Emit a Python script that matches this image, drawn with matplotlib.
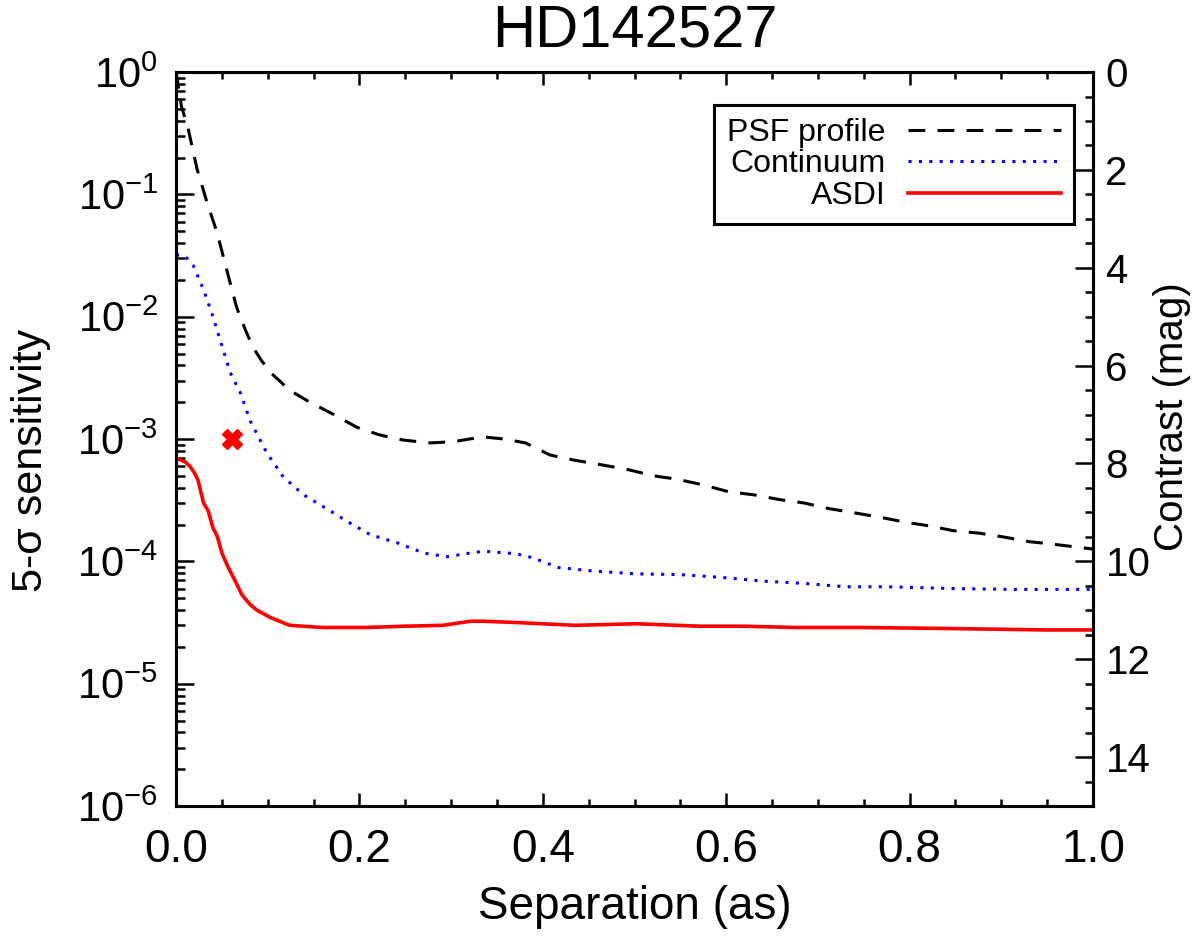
import matplotlib
matplotlib.use("Agg")
import matplotlib.pyplot as plt
from matplotlib.ticker import LogLocator, LogFormatterMathtext, MultipleLocator, NullFormatter, FormatStrFormatter

# PSF profile (black dashed)
sep_psf = [0.0, 0.006, 0.013, 0.023, 0.034, 0.045, 0.056, 0.066, 0.075, 0.084, 0.093,
           0.103, 0.124, 0.146, 0.171, 0.197, 0.222, 0.248, 0.277, 0.302, 0.320, 0.335,
           0.358, 0.381, 0.408, 0.435, 0.467, 0.494, 0.521, 0.546, 0.576, 0.603, 0.630,
           0.658, 0.685, 0.712, 0.739, 0.767, 0.794, 0.821, 0.848, 0.876, 0.903, 0.930,
           0.957, 0.989, 1.0]
psf = [1.0, 0.52, 0.35, 0.16, 0.085, 0.048, 0.023, 0.012, 0.0080, 0.0056, 0.0044,
       0.0035, 0.0025, 0.0020, 0.0016, 0.00125, 0.00108, 0.00098, 0.00093, 0.00095, 0.00100, 0.00104,
       0.00100, 0.00093, 0.00074, 0.00067, 0.00061, 0.00056, 0.00050, 0.00047, 0.00042, 0.00037, 0.00035,
       0.00032, 0.00030, 0.00027, 0.00025, 0.00023, 0.00021, 0.000195, 0.000178, 0.000170, 0.000158, 0.000145,
       0.000138, 0.000129, 0.000126]

# Continuum (blue dotted)
sep_cont = [0.0, 0.006, 0.012, 0.019, 0.030, 0.039, 0.048, 0.059, 0.070, 0.081, 0.099,
            0.117, 0.139, 0.164, 0.190, 0.212, 0.241, 0.270, 0.295, 0.321, 0.335, 0.355,
            0.372, 0.389, 0.417, 0.458, 0.503, 0.549, 0.594, 0.639, 0.685, 0.730, 0.776,
            0.844, 0.912, 1.0]
cont = [0.032, 0.032, 0.030, 0.026, 0.0166, 0.0107, 0.0065, 0.0035, 0.0024, 0.0014, 0.00077,
        0.00049, 0.00035, 0.00027, 0.000205, 0.000165, 0.000142, 0.000117, 0.000109, 0.000117, 0.000121, 0.000118,
        0.000115, 0.000107, 0.000089, 0.000083, 0.000079, 0.000078, 0.000074, 0.000069, 0.000066, 0.000062, 0.000062,
        0.000060, 0.000059, 0.000059]

# ASDI (red solid)
sep_asdi = [0.0, 0.004, 0.010, 0.015, 0.020, 0.024, 0.030, 0.035, 0.040, 0.045, 0.050, 0.057,
            0.065, 0.072, 0.080, 0.088, 0.103, 0.124, 0.160, 0.208, 0.248, 0.291, 0.321,
            0.335, 0.372, 0.435, 0.503, 0.571, 0.620, 0.676, 0.75, 0.85, 0.95, 1.0]
asdi = [6.9e-4, 6.8e-4, 6.5e-4, 6.0e-4, 5.3e-4, 4.6e-4, 3.0e-4, 2.6e-4, 1.9e-4, 1.6e-4, 1.17e-4, 8.9e-5,
        6.8e-5, 5.3e-5, 4.5e-5, 4.0e-5, 3.47e-5, 3.0e-5, 2.88e-5, 2.88e-5, 2.95e-5, 3.0e-5, 3.24e-5,
        3.24e-5, 3.16e-5, 3.0e-5, 3.09e-5, 2.95e-5, 2.95e-5, 2.88e-5, 2.88e-5, 2.82e-5, 2.75e-5, 2.75e-5]

# companion point
comp_sep = [0.061]
comp_sens = [1.0e-3]

plt.rcParams["font.family"] = ["Liberation Sans", "DejaVu Sans"]
plt.rcParams["mathtext.fontset"] = "custom"
plt.rcParams["mathtext.rm"] = "Liberation Sans"
plt.rcParams["mathtext.it"] = "Liberation Sans"

fig = plt.figure(figsize=(12, 9.38), dpi=100)
ax = fig.add_axes([0.1467, 0.1407, 0.9108 - 0.1467, 0.9232 - 0.1407])

ax.plot(sep_psf, psf, color="black", lw=2.2, dashes=(5.5, 4), label="PSF profile")
ax.plot(sep_cont, cont, color="#0000ff", lw=2.2, dashes=(1, 2.4), label="Continuum")
ax.plot(sep_asdi, asdi, color="#ff0000", lw=2.6, label="ASDI")
ax.plot(comp_sep, comp_sens, ls="none", marker="X", ms=14, color="#ff0000")

ax.set_yscale("log")
ax.set_xlim(0, 1.0)
ax.set_ylim(1e-6, 1.0)
ax.xaxis.set_major_locator(MultipleLocator(0.2))
ax.xaxis.set_minor_locator(MultipleLocator(0.05))
ax.xaxis.set_major_formatter(FormatStrFormatter("%.1f"))
ax.yaxis.set_major_locator(LogLocator(base=10, numticks=10))
ax.yaxis.set_minor_locator(LogLocator(base=10, subs=range(2, 10), numticks=20))
ax.yaxis.set_major_formatter(LogFormatterMathtext())
ax.yaxis.set_minor_formatter(NullFormatter())

for s in ax.spines.values():
    s.set_linewidth(2.2)

ax.tick_params(axis="x", which="both", direction="in", top=True, width=1.8, labelsize=33, pad=16)
ax.tick_params(axis="x", which="major", length=9.5)
ax.tick_params(axis="x", which="minor", length=5)
ax.tick_params(axis="y", which="both", direction="in", right=False, width=1.8, labelsize=30, pad=13)
ax.tick_params(axis="y", which="major", length=13)
ax.tick_params(axis="y", which="minor", length=6.5)

ax.set_xlabel("Separation (as)", fontsize=33, labelpad=9)
ax.set_ylabel("5-σ sensitivity", fontsize=31)
ax.yaxis.set_label_coords(-0.136, 0.471)
ax.set_title("HD142527", fontsize=43, pad=18)

ax2 = ax.twinx()
ax2.set_ylim(15, 0)
ax2.yaxis.set_major_locator(MultipleLocator(2))
ax2.yaxis.set_minor_locator(MultipleLocator(0.5))
ax2.tick_params(axis="y", which="both", direction="in", width=1.8, labelsize=29, pad=9)
ax2.tick_params(axis="y", which="major", length=13)
ax2.tick_params(axis="y", which="minor", length=6)
for s in ax2.spines.values():
    s.set_linewidth(2.2)
ax2.set_ylabel("Contrast (mag)", fontsize=29)
ax2.yaxis.set_label_coords(1.066, 0.53)

leg = ax.legend(loc="upper right", bbox_to_anchor=(0.979, 0.955), borderaxespad=0,
                markerfirst=False, fontsize=23, handlelength=4.8, handletextpad=0.7,
                labelspacing=0.05, borderpad=0.4, fancybox=False, framealpha=1,
                edgecolor="black")
leg.get_frame().set_linewidth(2.2)

fig.savefig("out.png", dpi=100)
